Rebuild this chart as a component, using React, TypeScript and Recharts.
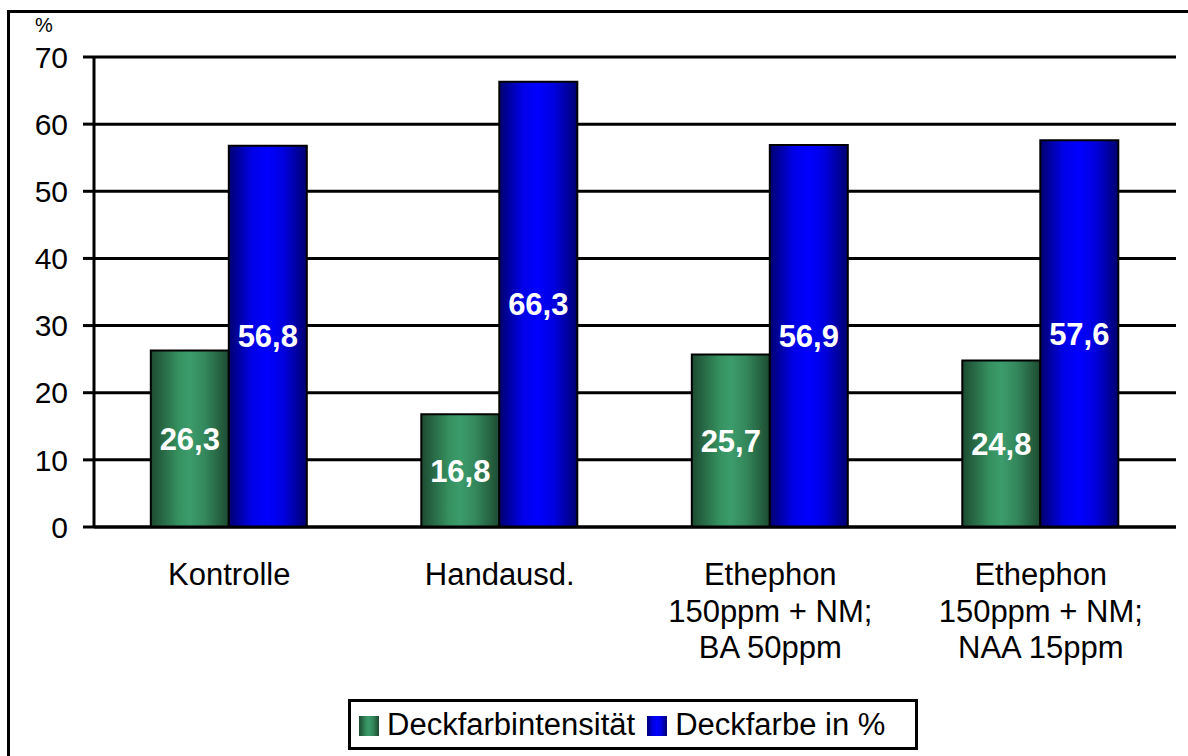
import {
  BarChart,
  Bar,
  XAxis,
  YAxis,
  CartesianGrid,
  LabelList,
  Legend,
} from 'recharts';

const CATEGORIES = [
  'Kontrolle',
  'Handausd.',
  'Ethephon\n150ppm + NM;\nBA 50ppm',
  'Ethephon\n150ppm + NM;\nNAA 15ppm',
];
const INTENSITY = [26.3, 16.8, 25.7, 24.8];
const COVER = [56.8, 66.3, 56.9, 57.6];
const Y_TICKS = [0, 10, 20, 30, 40, 50, 60, 70];
const EDGE_TICKS = [0, 1, 2, 3, 4];
const SERIES_NAMES = ['Deckfarbintensität', 'Deckfarbe in %'];

const data = CATEGORIES.map((name, i) => ({
  name,
  intensity: INTENSITY[i],
  cover: COVER[i],
}));

const GREEN_CSS =
  'linear-gradient(to right, #1d4a31 0%, #35905f 35%, #3c9c6c 50%, #33875b 70%, #1d4a31 100%)';
const BLUE_CSS =
  'linear-gradient(to right, #000070 0%, #0000e8 30%, #0000ff 50%, #0000e0 70%, #000070 100%)';

const fmt = (v: any) => Number(v).toFixed(1).replace('.', ',');

function CategoryTick(props: any) {
  const { x, y, payload } = props;
  const lines = String(payload.value).split('\n');
  return (
    <text x={x} y={y} textAnchor="middle" fontSize={31} fill="#000">
      {lines.map((line, i) => (
        <tspan key={i} x={x} dy={i === 0 ? 45 : 36.5}>
          {line}
        </tspan>
      ))}
    </text>
  );
}

function LegendBox() {
  const swatches = [GREEN_CSS, BLUE_CSS];
  return (
    <div
      style={{
        boxSizing: 'border-box',
        width: 570,
        height: 51,
        border: '3px solid #000',
        background: '#fff',
        display: 'flex',
        alignItems: 'center',
        paddingLeft: 8,
        fontSize: 31,
        color: '#000',
        whiteSpace: 'nowrap',
      }}
    >
      {SERIES_NAMES.map((n, i) => (
        <div key={n} style={{ display: 'flex', alignItems: 'center', marginRight: 12 }}>
          <span
            style={{
              display: 'inline-block',
              width: 20,
              height: 20,
              background: swatches[i],
              marginRight: 8,
              marginTop: 3,
            }}
          />
          <span>{n}</span>
        </div>
      ))}
    </div>
  );
}

export default function App() {
  return (
    <div
      style={{
        position: 'absolute',
        left: 0,
        top: 0,
        width: 1188,
        height: 756,
        overflow: 'hidden',
        background: '#fff',
        fontFamily: '"Liberation Sans", Arial, sans-serif',
      }}
    >
      {/* outer chart frame (right/bottom edges fall off the picture) */}
      <div
        style={{
          position: 'absolute',
          left: 7,
          top: 10,
          width: 1300,
          height: 900,
          border: '3px solid #000',
        }}
      />
      <div style={{ position: 'absolute', left: 35, top: 15, fontSize: 20, lineHeight: 1 }}>%</div>

      <div style={{ position: 'absolute', left: 0, top: 0 }}>
        <BarChart
          width={1188}
          height={756}
          data={data}
          margin={{ top: 57, right: 12, left: 0, bottom: 76 }}
          barCategoryGap="21%"
          barGap={0}
        >
          <defs>
            <linearGradient id="gGreen" x1="0" y1="0" x2="1" y2="0">
              <stop offset="0%" stopColor="#1d4a31" />
              <stop offset="35%" stopColor="#35905f" />
              <stop offset="50%" stopColor="#3c9c6c" />
              <stop offset="70%" stopColor="#33875b" />
              <stop offset="100%" stopColor="#1d4a31" />
            </linearGradient>
            <linearGradient id="gBlue" x1="0" y1="0" x2="1" y2="0">
              <stop offset="0%" stopColor="#000070" />
              <stop offset="30%" stopColor="#0000e8" />
              <stop offset="50%" stopColor="#0000ff" />
              <stop offset="70%" stopColor="#0000e0" />
              <stop offset="100%" stopColor="#000070" />
            </linearGradient>
          </defs>
          <CartesianGrid xAxisId="b_cat" vertical={false} stroke="#000" strokeWidth={3} />
          <XAxis
            xAxisId="b_cat"
            dataKey="name"
            height={140}
            axisLine={false}
            tickLine={false}
            tickSize={0}
            tickMargin={0}
            interval={0}
            tick={<CategoryTick />}
          />
          <XAxis
            xAxisId="a_edge"
            type="number"
            domain={[0, 4]}
            ticks={EDGE_TICKS}
            allowDataOverflow
            tick={false}
            tickSize={13}
            height={13}
            axisLine={{ stroke: '#000', strokeWidth: 3 }}
            tickLine={{ stroke: '#000', strokeWidth: 3 }}
          />
          <YAxis
            domain={[0, 70]}
            ticks={Y_TICKS}
            width={94}
            tickSize={11}
            tickMargin={15}
            tick={{ fill: '#000', fontSize: 30 }}
            axisLine={{ stroke: '#000', strokeWidth: 3 }}
            tickLine={{ stroke: '#000', strokeWidth: 3 }}
          />
          <YAxis
            yAxisId="r"
            orientation="right"
            domain={[0, 70]}
            width={0}
            tick={false}
            tickLine={false}
            axisLine={{ stroke: '#000', strokeWidth: 3 }}
          />
          <Legend
            layout="vertical"
            align="center"
            verticalAlign="middle"
            content={<LegendBox />}
            wrapperStyle={{ left: 348, top: 699, width: 570, height: 51 }}
          />
          <Bar
            xAxisId="b_cat"
            dataKey="intensity"
            name={SERIES_NAMES[0]}
            fill="url(#gGreen)"
            stroke="#000"
            strokeWidth={2}
            isAnimationActive={false}
          >
            <LabelList
              dataKey="intensity"
              position="center"
              formatter={fmt}
              fill="#fff"
              fontSize={31}
              fontWeight="bold"
            />
          </Bar>
          <Bar
            xAxisId="b_cat"
            dataKey="cover"
            name={SERIES_NAMES[1]}
            fill="url(#gBlue)"
            stroke="#000"
            strokeWidth={2}
            isAnimationActive={false}
          >
            <LabelList
              dataKey="cover"
              position="center"
              formatter={fmt}
              fill="#fff"
              fontSize={31}
              fontWeight="bold"
            />
          </Bar>
        </BarChart>
      </div>
    </div>
  );
}
